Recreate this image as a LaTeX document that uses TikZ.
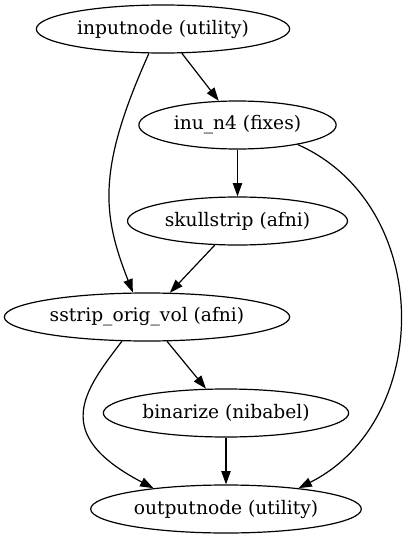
\documentclass[tikz,border=0pt]{standalone}
\usepackage{fontspec}
\setmainfont{DejaVu Serif}
\usetikzlibrary{shapes.geometric, arrows.meta}
\tikzset{
->, % makes the edges directed
>={Triangle[length=10pt, width=7pt]}, % filled arrow heads
task/.style={draw, ellipse, inner sep=0pt, minimum height=36pt, font=\fontsize{14}{17}\selectfont}, % one ellipse per workflow node
}

\begin{document}
\begin{tikzpicture}[x=0.75pt, y=-0.75pt, line width=0.9pt]
        \useasboundingbox (0,0) rectangle (407,539);

        \node[task, minimum width=190pt] (inputnode) at (163,29) {inputnode (utility)};
        \node[task, minimum width=148pt] (inu) at (237.5,125) {inu\_n4 (fixes)};
        \node[task, minimum width=165pt] (skull) at (237.5,221) {skullstrip (afni)};
        \node[task, minimum width=214pt] (sstrip) at (147,317) {sstrip\_orig\_vol (afni)};
        \node[task, minimum width=184pt] (bin) at (226,413) {binarize (nibabel)};
        \node[task, minimum width=203pt] (outputnode) at (226,509) {outputnode (utility)};

        \draw (inputnode) edge (inu)
        (inu) edge (skull)
        (skull) edge (sstrip)
        (sstrip) edge (bin)
        (bin) edge (outputnode);

        % curved edges
        \draw (inputnode.-120) .. controls (97,169) and (102,214) .. (sstrip.120);
        \draw (inu.-18) .. controls (434,205) and (434,420) .. (outputnode.16);
        \draw (sstrip.-136) .. controls (84,391) and (50,434) .. (outputnode.164);
      \end{tikzpicture}
\end{document}
